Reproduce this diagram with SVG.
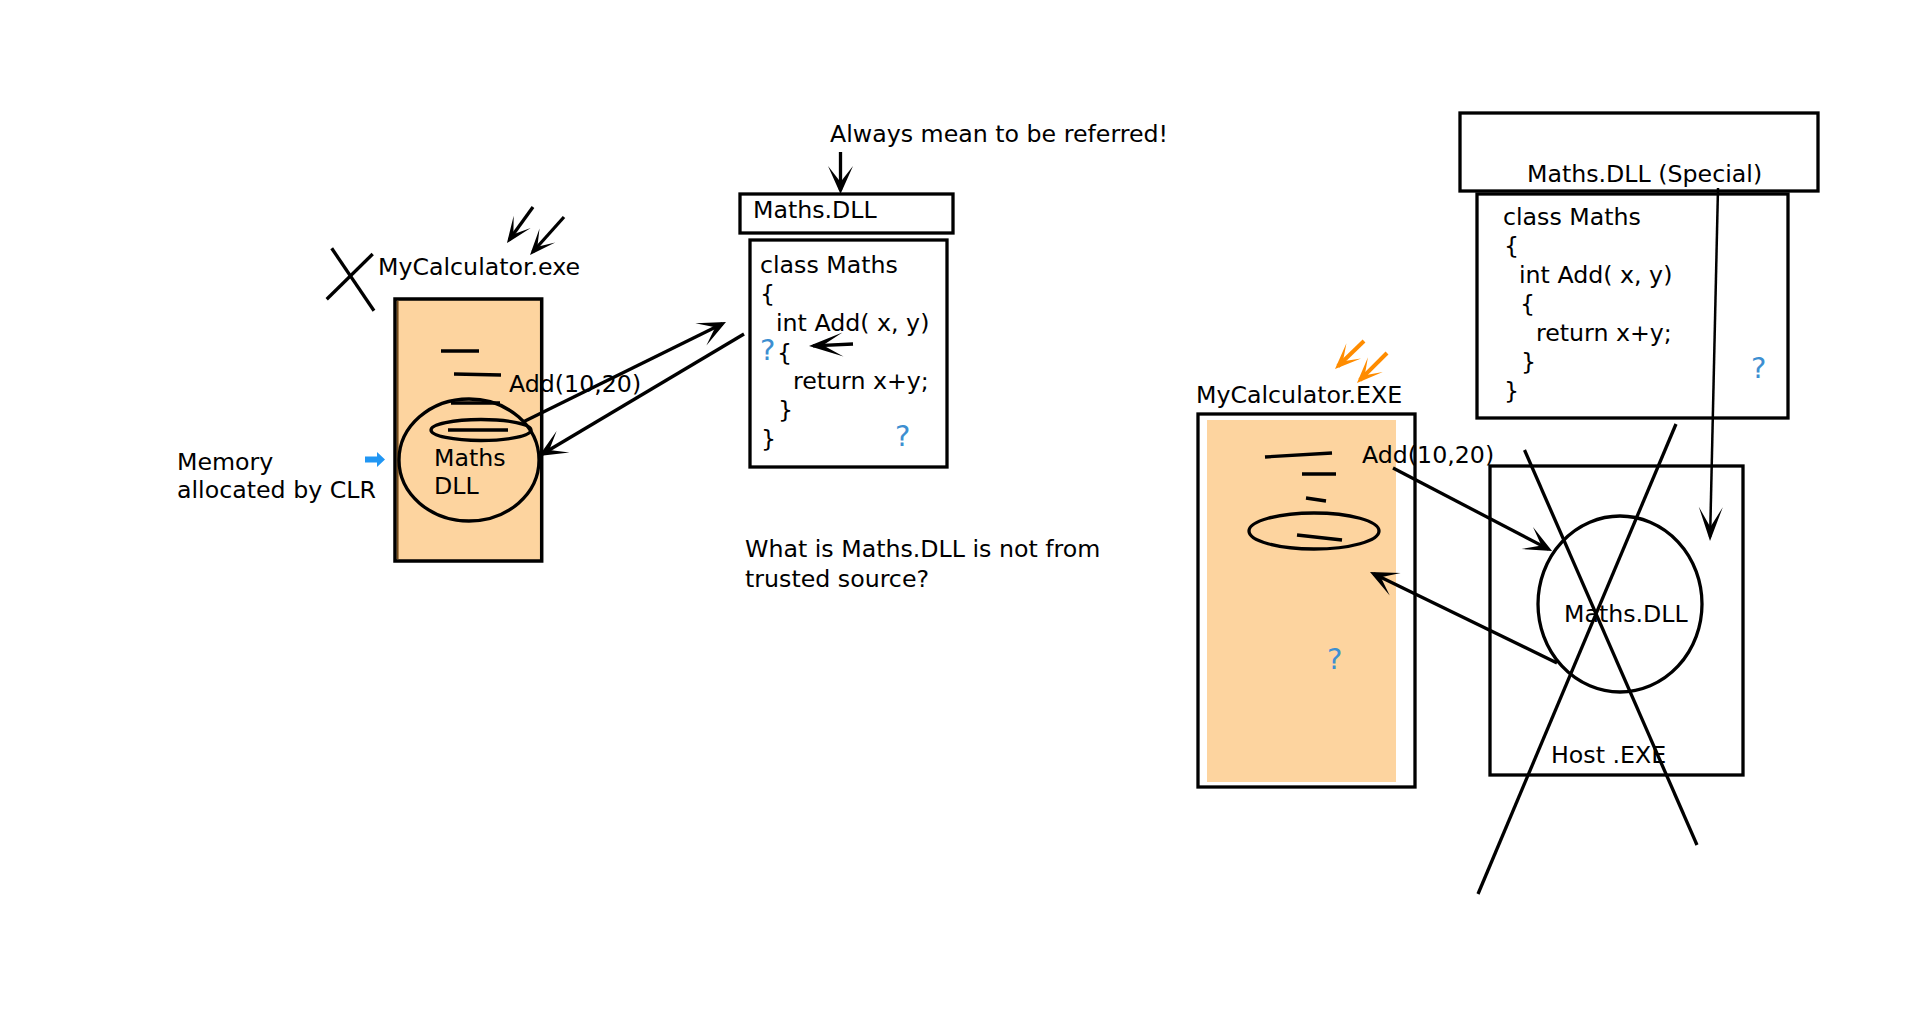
<svg xmlns="http://www.w3.org/2000/svg" width="1920" height="1017" viewBox="0 0 1920 1017">
<defs>
<style>
text{font-family:"DejaVu Sans",Verdana,sans-serif;font-size:23.7px;fill:#000}
text.q{fill:#3d8fd1;font-size:29px}
.s{fill:none;stroke:#000;stroke-width:3.3}
.ln{stroke:#000;stroke-width:3.3;fill:none}
.peach{fill:#fdd49f}
.c{stroke:#000;stroke-width:3.3;fill:none}
.co{stroke:#ff8c00;stroke-width:4;fill:none}
</style>
<marker id="ah" markerUnits="userSpaceOnUse" viewBox="-30 -15 34 30" markerWidth="34" markerHeight="30" refX="-4" refY="0" orient="auto">
<path d="M0,0 L-28,-12.5 L-12,0 L-28,12.5 Z" fill="#000"/>
</marker>
<marker id="ahl" markerUnits="userSpaceOnUse" viewBox="-36 -15 40 30" markerWidth="40" markerHeight="30" refX="-4" refY="0" orient="auto">
<path d="M0,0 L-34,-12 L-14,0 L-34,12 Z" fill="#000"/>
</marker>
<marker id="ahs" markerUnits="userSpaceOnUse" viewBox="-30 -15 34 30" markerWidth="34" markerHeight="30" refX="-4" refY="0" orient="auto">
<path d="M0,0 L-26,-10.5 L-11,0 L-26,10.5 Z" fill="#000"/>
</marker>
<marker id="aho" markerUnits="userSpaceOnUse" viewBox="-30 -15 34 30" markerWidth="34" markerHeight="30" refX="-4" refY="0" orient="auto">
<path d="M0,0 L-26,-10.5 L-11,0 L-26,10.5 Z" fill="#ff8c00"/>
</marker>
</defs>
<rect width="1920" height="1017" fill="#fff"/>

<g id="left-exe">
<line class="ln" x1="326.7" y1="299.3" x2="372.7" y2="254"/>
<line class="ln" x1="331.7" y1="248.3" x2="374" y2="310.7"/>
<text x="378" y="275">MyCalculator.exe</text>
<rect class="peach" x="395" y="299" width="146.7" height="262" stroke="#000" stroke-width="3.5"/>
<line x1="397.8" y1="301" x2="397.8" y2="559" stroke="#6b4312" stroke-width="1.5"/>
<line class="ln" x1="441" y1="351" x2="479" y2="351"/>
<line class="ln" x1="454" y1="374" x2="501" y2="375"/>
<line class="ln" x1="451" y1="403" x2="500" y2="403"/>
<ellipse class="c" cx="469" cy="460" rx="70" ry="61"/>
<ellipse class="c" cx="481" cy="430" rx="50" ry="10.5"/>
<line class="ln" x1="448" y1="430" x2="508" y2="430"/>
<text x="434" y="466">Maths</text>
<text x="434" y="494">DLL</text>
<text x="509" y="392">Add(10,20)</text>
</g>

<g id="memory-note">
<text x="177" y="470">Memory</text>
<text x="177" y="498">allocated by CLR</text>
<polygon points="365,456.5 377,456.5 377,452 385,459.5 377,467 377,462.5 365,462.5" fill="#2196f3"/>
</g>

<g id="always-note">
<text x="830" y="142">Always mean to be referred!</text>
</g>

<g id="maths-dll-header">
<rect class="s" x="740" y="194" width="213" height="39"/>
<text x="753" y="218">Maths.DLL</text>
</g>

<g id="maths-dll-code">
<rect class="s" x="750" y="240" width="197" height="227"/>
<text x="760" y="273">class Maths</text>
<text x="760" y="302">{</text>
<text x="776" y="331">int Add( x, y)</text>
<text x="760" y="360" class="q">?</text>
<text x="777" y="361">{</text>
<text x="793" y="389">return x+y;</text>
<text x="778" y="418">}</text>
<text x="761" y="447">}</text>
<text x="895" y="446" class="q">?</text>
</g>

<g id="untrusted-note">
<text x="745" y="557">What is Maths.DLL is not from</text>
<text x="745" y="587">trusted source?</text>
</g>

<g id="special-header">
<rect class="s" x="1460" y="113" width="358" height="78" stroke-width="3.5"/>
<text x="1527" y="182">Maths.DLL (Special)</text>
</g>

<g id="special-code">
<rect class="s" x="1477" y="194" width="311" height="224"/>
<text x="1503" y="225">class Maths</text>
<text x="1504" y="254">{</text>
<text x="1519" y="283">int Add( x, y)</text>
<text x="1520" y="312">{</text>
<text x="1536" y="341">return x+y;</text>
<text x="1521" y="370">}</text>
<text x="1504" y="399">}</text>
<text x="1751" y="378" class="q">?</text>
</g>

<g id="right-exe">
<text x="1196" y="403">MyCalculator.EXE</text>
<rect class="s" x="1198" y="414" width="217" height="373"/>
<rect class="peach" x="1207" y="420" width="189" height="362"/>
<line class="ln" x1="1265" y1="457" x2="1332" y2="453"/>
<line class="ln" x1="1302" y1="474" x2="1336" y2="474"/>
<line class="ln" x1="1306" y1="498" x2="1326" y2="501"/>
<ellipse class="c" cx="1314" cy="531" rx="65" ry="18"/>
<line class="ln" x1="1297" y1="535" x2="1342" y2="540"/>
<text x="1362" y="463">Add(10,20)</text>
<text x="1327" y="669" class="q">?</text>
</g>

<g id="host-exe">
<rect class="s" x="1490" y="466" width="253" height="309"/>
<ellipse class="c" cx="1620" cy="604" rx="82" ry="88"/>
<text x="1564" y="622">Maths.DLL</text>
<text x="1551" y="763">Host .EXE</text>
<line class="ln" x1="1524.5" y1="450" x2="1697" y2="845"/>
<line class="ln" x1="1676" y1="424" x2="1478" y2="894"/>
</g>

<g id="connectors">
<line class="ln" x1="533" y1="207" x2="509.3" y2="239.8" marker-end="url(#ahs)"/>
<line class="ln" x1="564" y1="217" x2="532.7" y2="252" marker-end="url(#ahs)"/>
<line class="ln" x1="523" y1="422" x2="722.4" y2="323.8" marker-end="url(#ah)"/>
<line class="ln" x1="744" y1="334" x2="542.4" y2="454" marker-end="url(#ah)"/>
<line class="ln" x1="840.5" y1="152" x2="840.5" y2="190" marker-end="url(#ah)"/>
<line class="ln" x1="853" y1="344" x2="813" y2="345.8" marker-end="url(#ahl)"/>
<line x1="1718" y1="188" x2="1710.1" y2="537" stroke="#000" stroke-width="2.5" marker-end="url(#ahl)"/>
<line class="co" x1="1364" y1="341" x2="1337.9" y2="366.2" marker-end="url(#aho)"/>
<line class="co" x1="1387" y1="353" x2="1359.8" y2="380.2" marker-end="url(#aho)"/>
<line class="ln" x1="1393" y1="468" x2="1548.5" y2="549.1" marker-end="url(#ah)"/>
<line class="ln" x1="1557" y1="663" x2="1373.6" y2="573.8" marker-end="url(#ah)"/>
</g>
</svg>
